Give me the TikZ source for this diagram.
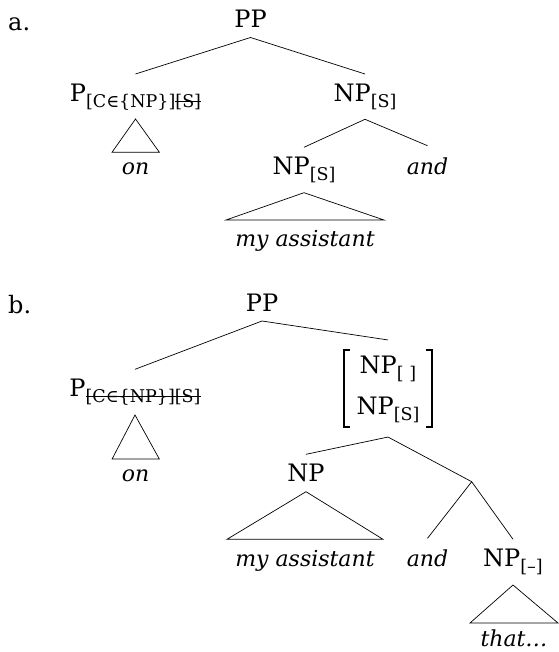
\documentclass[tikz,border=0pt]{standalone}
\usepackage{fontspec}
\setmainfont{DejaVu Serif}
\usetikzlibrary{positioning}
\newcommand\fsub[1]{\raisebox{-6pt}{\fontsize{17.5}{20}\selectfont #1}}
\newcommand\xout[1]{\setbox0\hbox{#1}\rlap{\rule[0.35em]{\wd0}{0.7pt}}\box0}

\begin{document}
\begin{tikzpicture}[x=1pt, y=-1pt, font=\fontsize{24}{29}\selectfont,
    lab/.style={anchor=base, inner sep=0pt},
    word/.style={lab, font=\fontsize{22}{26}\selectfont\itshape},
    edge/.style={line width=0.7pt, line join=miter},
    brack/.style={line width=1.5pt}]
    \useasboundingbox (0,0) rectangle (558,652);
    \node[lab, anchor=base west] (a) at (8,30.7) {a.};
    \node[lab] (PPa) at (250.5,28) {PP};
    \node[lab] (Pa) at (135.5,101.7) {P\fsub{[C∈\{NP\}]\xout{[S]}}};
    \node[lab] (NPa) at (365,101.7) {NP\fsub{[S]}};
    \node[word] (ona) at (135.7,175) {on};
    \node[lab] (NPSa) at (304,175) {NP\fsub{[S]}};
    \node[word] (anda) at (427.5,175) {and};
    \node[word] (asa) at (305,246.7) {my assistant};
    \draw[edge] ([yshift=27.7pt]Pa.base) -- ([yshift=-9.5pt]PPa.base) -- ([yshift=27.7pt]NPa.base);
    \draw[edge] ([yshift=27.7pt]NPSa.base) -- ([yshift=-17.6pt]NPa.base) -- ([yshift=29.3pt]anda.base);
    \draw[edge] ([yshift=-17.3pt]Pa.base) -- ([xshift=-23.7pt,yshift=22.7pt]ona.base) -- ([xshift=23.7pt,yshift=22.7pt]ona.base) -- cycle;
    \draw[edge] ([yshift=-17.7pt]NPSa.base) -- ([xshift=-79pt,yshift=26.7pt]asa.base) -- ([xshift=79pt,yshift=26.7pt]asa.base) -- cycle;

    \node[lab, anchor=base west] (b) at (8,313.3) {b.};
    \node[lab] (PPb) at (262,311.7) {PP};
    \node[lab] (Pb) at (135,396.7) {P\fsub{\xout{[C∈\{NP\}][S]}}};
    \node[inner xsep=0pt, minimum width=88pt, minimum height=76pt] (brk) at (388,388.5)
      {\begin{tabular}{@{}c@{}}NP\fsub{[\,\,]}\\[12pt]NP\fsub{[S]}\end{tabular}};
    \draw[brack] ([xshift=6pt]brk.north west) -- (brk.north west) -- (brk.south west) -- ([xshift=6pt]brk.south west);
    \draw[brack] ([xshift=-6pt]brk.north east) -- (brk.north east) -- (brk.south east) -- ([xshift=-6pt]brk.south east);
    \node[word] (onb) at (135.7,481.7) {on};
    \node[lab] (NPb) at (306,481.7) {NP};
    \coordinate (conj) at (471.7,481.7);
    \node[word] (asb) at (305,566.7) {my assistant};
    \node[word] (andb) at (427.5,566.7) {and};
    \node[lab] (NPmb) at (513,566.7) {NP\fsub{[–]}};
    \node[word] (thatb) at (514,646.5) {that…};
    \draw[edge] ([yshift=27.4pt]Pb.base) -- ([yshift=-9.3pt]PPb.base) -- ([yshift=10pt]brk.north);
    \draw[edge] ([yshift=27.4pt]NPb.base) -- ([yshift=-10pt]brk.south) -- (conj);
    \draw[edge] ([yshift=28.4pt]andb.base) -- (conj) -- ([yshift=27.4pt]NPmb.base);
    \draw[edge] ([yshift=-18.3pt]Pb.base) -- ([xshift=-23.6pt,yshift=22.7pt]onb.base) -- ([xshift=23.6pt,yshift=22.7pt]onb.base) -- cycle;
    \draw[edge] ([yshift=-10pt]NPb.base) -- ([xshift=-78pt,yshift=27.4pt]asb.base) -- ([xshift=78pt,yshift=27.4pt]asb.base) -- cycle;
    \draw[edge] ([yshift=-18.3pt]NPmb.base) -- ([xshift=-44pt,yshift=23.5pt]thatb.base) -- ([xshift=44pt,yshift=23.5pt]thatb.base) -- cycle;
\end{tikzpicture}
\end{document}
